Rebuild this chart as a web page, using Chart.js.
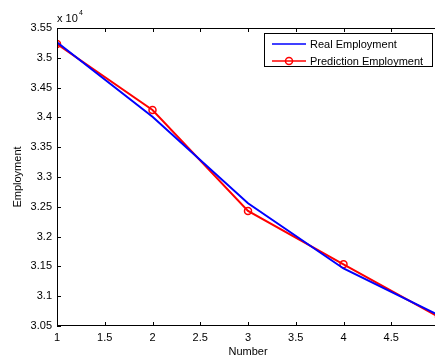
<!DOCTYPE html>
<html>
<head>
<meta charset="utf-8">
<script src="https://cdn.jsdelivr.net/npm/chart.js@4.4.1/dist/chart.umd.min.js"></script>
<style>
  html, body { margin: 0; padding: 0; background: #fff; overflow: hidden; }
  #wrap { width: 445px; height: 361px; }
</style>
</head>
<body>
<div id="wrap"><canvas id="employmentChart" width="445" height="361"></canvas></div>
<script>
// data (employment, real units)
var numbers = [1, 2, 3, 4, 5];
var realEmployment = [35260, 34010, 32560, 31465, 30680];
var predictionEmployment = [35230, 34125, 32430, 31535, 30650];
var xTicks = [1, 1.5, 2, 2.5, 3, 3.5, 4, 4.5, 5];
var yTicks = [30500, 31000, 31500, 32000, 32500, 33000, 33500, 34000, 34500, 35000, 35500];

var FONT = 'Arial, "Liberation Sans", sans-serif';

function toPoints(xs, ys) {
    return xs.map(function(x, i) { return { x: x, y: ys[i] }; });
}

// MATLAB style frame: box, inward ticks, axis titles, exponent, legend
var matlabAxes = {
    id: 'matlabAxes',
    afterDraw: function(chart) {
        var ctx = chart.ctx;
        var area = chart.chartArea;
        var xs = chart.scales.x;
        var ys = chart.scales.y;
        ctx.save();
        ctx.strokeStyle = '#000';
        ctx.lineWidth = 1;
        ctx.strokeRect(area.left + 0.5, area.top + 0.5, area.right - area.left - 1, area.bottom - area.top - 1);

        // inward ticks
        ctx.beginPath();
        xTicks.forEach(function(v) {
            var px = Math.round(xs.getPixelForValue(v)) + 0.5;
            ctx.moveTo(px, area.bottom);
            ctx.lineTo(px, area.bottom - 4);
            ctx.moveTo(px, area.top);
            ctx.lineTo(px, area.top + 4);
        });
        yTicks.forEach(function(v) {
            var py = Math.round(ys.getPixelForValue(v)) + 0.5;
            ctx.moveTo(area.left, py);
            ctx.lineTo(area.left + 4, py);
            ctx.moveTo(area.right, py);
            ctx.lineTo(area.right - 4, py);
        });
        ctx.stroke();

        // axis titles
        ctx.fillStyle = '#000';
        ctx.font = '11px ' + FONT;
        ctx.textAlign = 'center';
        ctx.textBaseline = 'middle';
        ctx.fillText('Number', (area.left + area.right) / 2, 352);
        ctx.save();
        ctx.translate(18, (area.top + area.bottom) / 2);
        ctx.rotate(-Math.PI / 2);
        ctx.fillText('Employment', 0, 0);
        ctx.restore();

        // exponent
        ctx.textAlign = 'left';
        ctx.textBaseline = 'alphabetic';
        ctx.font = '11px ' + FONT;
        ctx.fillText('x 10', 57, 22);
        ctx.font = '7px ' + FONT;
        ctx.fillText('4', 79, 15);

        // legend
        var lx = 264, ly = 33, lw = 169, lh = 34;
        ctx.fillStyle = '#fff';
        ctx.fillRect(lx, ly, lw, lh);
        ctx.strokeStyle = '#000';
        ctx.lineWidth = 1;
        ctx.strokeRect(lx + 0.5, ly + 0.5, lw - 1, lh - 1);
        ctx.font = '11px ' + FONT;
        ctx.textBaseline = 'middle';
        chart.data.datasets.forEach(function(ds, i) {
            var cy = ly + 11 + i * 17;
            ctx.strokeStyle = ds.borderColor;
            ctx.lineWidth = 1.5;
            ctx.beginPath();
            ctx.moveTo(272, cy);
            ctx.lineTo(306, cy);
            ctx.stroke();
            if (ds.pointRadius > 0) {
                ctx.beginPath();
                ctx.arc(289, cy, ds.pointRadius, 0, Math.PI * 2);
                ctx.stroke();
            }
            ctx.fillStyle = '#000';
            ctx.fillText(ds.label, 310, cy + 0.5);
        });
        ctx.restore();
    }
};

var ctx = document.getElementById('employmentChart').getContext('2d');
var employmentChart = new Chart(ctx, {
    type: 'line',
    data: {
        datasets: [{
            label: 'Real Employment',
            data: toPoints(numbers, realEmployment),
            borderColor: '#0000ff',
            borderWidth: 2,
            pointRadius: 0,
            fill: false,
            tension: 0
        }, {
            label: 'Prediction Employment',
            data: toPoints(numbers, predictionEmployment),
            borderColor: '#ff0000',
            borderWidth: 2,
            pointRadius: 3.5,
            pointBorderWidth: 1.5,
            pointBorderColor: '#ff0000',
            pointBackgroundColor: 'rgba(0,0,0,0)',
            fill: false,
            tension: 0
        }]
    },
    options: {
        responsive: false,
        animation: false,
        layout: { padding: { left: 0, top: 28, right: 6, bottom: 0 } },
        plugins: {
            legend: { display: false },
            tooltip: { enabled: false }
        },
        scales: {
            x: {
                type: 'linear',
                min: 1,
                max: 5,
                afterBuildTicks: function(scale) {
                    scale.ticks = xTicks.map(function(v) { return { value: v }; });
                },
                afterFit: function(scale) { scale.height = 35; },
                grid: { display: false, drawTicks: false },
                border: { display: false },
                ticks: {
                    padding: 5,
                    maxRotation: 0,
                    autoSkip: false,
                    color: '#000',
                    font: { family: FONT, size: 11 },
                    // the "5" label falls outside the cropped figure
                    callback: function(v) { return v === 5 ? '' : String(v); }
                }
            },
            y: {
                type: 'linear',
                min: 30500,
                max: 35500,
                afterBuildTicks: function(scale) {
                    scale.ticks = yTicks.map(function(v) { return { value: v }; });
                },
                afterFit: function(scale) { scale.width = 57; },
                grid: { display: false, drawTicks: false },
                border: { display: false },
                ticks: {
                    padding: 5,
                    autoSkip: false,
                    color: '#000',
                    font: { family: FONT, size: 11 },
                    callback: function(v) { return String(Number((v / 1e4).toFixed(3))); }
                }
            }
        }
    },
    plugins: [matlabAxes]
});
</script>
</body>
</html>
